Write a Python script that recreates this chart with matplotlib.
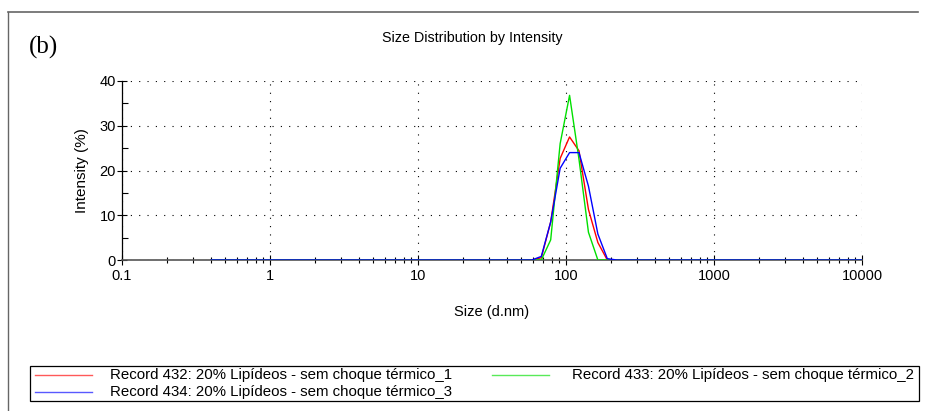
import matplotlib
matplotlib.use("Agg")
import matplotlib.pyplot as plt
from matplotlib.lines import Line2D
from matplotlib.patches import Rectangle
from matplotlib.ticker import LogLocator, FixedLocator, NullFormatter, FuncFormatter

# Size bins (d.nm) and intensity (%) for each record
sizes = [0.4, 58.8, 68.1, 78.8, 91.3, 105.7, 122.4, 141.8, 164.2, 190.1, 220.2, 10000]
rec_432 = [0, 0, 0.5, 8.5, 22.7, 27.5, 24.4, 11.3, 3.9, 0, 0, 0]
rec_433 = [0, 0, 0, 4.5, 26.0, 36.8, 22.5, 6.2, 0, 0, 0, 0]
rec_434 = [0, 0, 0.8, 8.5, 20.5, 24.0, 24.0, 16.5, 5.8, 0.3, 0, 0]

labels = [
    "Record 432: 20% Lipídeos - sem choque térmico_1",
    "Record 433: 20% Lipídeos - sem choque térmico_2",
    "Record 434: 20% Lipídeos - sem choque térmico_3",
]
colors = ["#ff0000", "#00e000", "#0000ff"]
y_ticks = [0, 10, 20, 30, 40]
x_ticks = [0.1, 1, 10, 100, 1000, 10000]

plt.rcParams["font.family"] = ["Liberation Sans", "DejaVu Sans"]

W, H = 925, 411
fig = plt.figure(figsize=(W / 100, H / 100), dpi=100)
ax = fig.add_axes([122 / W, 1 - 260 / H, 740 / W, 179 / H])

series = [rec_432, rec_433, rec_434]
for vals, lab, c in zip(series, labels, colors):
    ax.plot(sizes, vals, color=c, lw=1.0, label=lab, zorder=3)

ax.set_xscale("log")
ax.set_xlim(0.1, 10000)
ax.set_ylim(0, 40)

ax.xaxis.set_major_locator(FixedLocator(x_ticks))
ax.xaxis.set_major_formatter(FuncFormatter(lambda v, p: f"{v:g}"))
ax.xaxis.set_minor_locator(LogLocator(base=10, subs=range(2, 10), numticks=20))
ax.xaxis.set_minor_formatter(NullFormatter())
ax.set_yticks(y_ticks)
ax.set_yticks([5, 15, 25, 35], minor=True)

ax.tick_params(axis="both", which="major", labelsize=10.5, direction="inout",
               length=7, width=0.8, color="black")
ax.tick_params(axis="x", which="major", pad=3)
ax.tick_params(axis="y", which="major", pad=1)
ax.tick_params(axis="x", which="minor", direction="inout", length=5, width=0.8)
ax.tick_params(axis="y", which="minor", direction="in", length=4, width=0.8)

for s in ("top", "right"):
    ax.spines[s].set_visible(False)
ax.spines["left"].set_color("black")
ax.spines["bottom"].set_color("#555555")
ax.spines["left"].set_linewidth(0.9)
ax.spines["bottom"].set_linewidth(1.2)

ax.grid(True, which="major", color="black", lw=0.8, linestyle=(0, (1, 6.5)))
ax.set_axisbelow(True)

ax.set_ylabel("Intensity (%)", fontsize=11)
ax.yaxis.set_label_coords((89 - 122) / 740, 0.5)
ax.set_xlabel("Size (d.nm)", fontsize=10.5)
ax.xaxis.set_label_coords(0.5, (260 - 305) / 179)
fig.text(472 / W, 1 - 38 / H, "Size Distribution by Intensity", ha="center",
         va="center", fontsize=10.3)
fig.text(29 / W, 1 - 47 / H, "(b)", ha="left", va="center", fontsize=18,
         family=["Liberation Serif", "DejaVu Serif"])

# Outer panel border
fig.add_artist(Line2D([8 / W, 8 / W], [1 - 12 / H, 0], transform=fig.transFigure,
                      color="#666666", lw=1.0))
fig.add_artist(Line2D([8 / W, 918 / W], [1 - 12 / H, 1 - 12 / H],
                      transform=fig.transFigure, color="#666666", lw=1.2))

# Legend box with two columns: 432 and 434 on the left, 433 on the right
fig.add_artist(Rectangle((30 / W, 1 - 401 / H), 889 / W, 35 / H,
                         transform=fig.transFigure, fill=False,
                         edgecolor="black", lw=0.9))
entries = [(0, 35, 110, 375), (2, 35, 110, 392), (1, 492, 572, 375)]
for idx, x_line, x_text, y in entries:
    fig.add_artist(Line2D([x_line / W, (x_line + 57) / W], [1 - y / H, 1 - y / H],
                          transform=fig.transFigure, color=colors[idx],
                          lw=1.0, alpha=0.65))
    fig.text(x_text / W, 1 - y / H, labels[idx], ha="left", va="center",
             fontsize=10.8)

fig.savefig("out.png", dpi=100)
